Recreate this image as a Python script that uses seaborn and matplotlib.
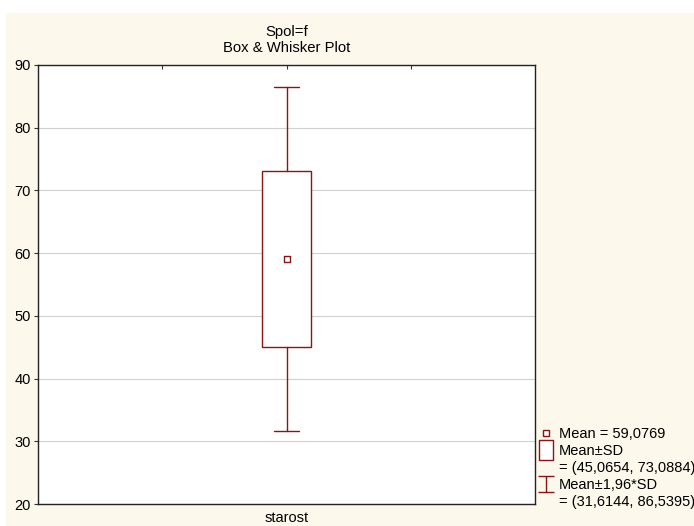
import matplotlib
matplotlib.use("Agg")
import matplotlib.pyplot as plt
import matplotlib.patches as mpatches
from matplotlib.lines import Line2D
from matplotlib.path import Path
import seaborn as sns

# ---- data ----
category = ["starost"]
mean_val = 59.0769
sd_low, sd_high = 45.0654, 73.0884
ci_low, ci_high = 31.6144, 86.5395
y_ticks = [20, 30, 40, 50, 60, 70, 80, 90]
title_lines = ["Spol=f", "Box & Whisker Plot"]

sns.set_style("white")
plt.rcParams["font.family"] = ["Liberation Sans", "DejaVu Sans"]
plt.rcParams["text.color"] = "black"
plt.rcParams["axes.labelcolor"] = "black"
plt.rcParams["xtick.color"] = "black"
plt.rcParams["ytick.color"] = "black"

RED = "#8B1414"
fig = plt.figure(figsize=(6.94, 5.26), dpi=100)
fig.patch.set_facecolor("white")
fig.add_artist(mpatches.Rectangle((6 / 694, 0), 1, (526 - 13) / 526,
                                  transform=fig.transFigure, facecolor="#FDF8EC",
                                  edgecolor="none", zorder=-10))

ax = fig.add_axes([38 / 694, (526 - 504) / 526, (535 - 38) / 694, (504 - 65) / 526])
ax.set_facecolor("white")

stats = [{"med": mean_val, "q1": sd_low, "q3": sd_high,
          "whislo": ci_low, "whishi": ci_high, "label": category[0]}]
ax.bxp(stats, positions=[0], widths=0.2, capwidths=0.1, showfliers=False,
       patch_artist=True,
       boxprops=dict(facecolor="white", edgecolor=RED, linewidth=1.0),
       whiskerprops=dict(color=RED, linewidth=1.0),
       capprops=dict(color=RED, linewidth=1.0),
       medianprops=dict(linewidth=0, alpha=0),
       manage_ticks=False, zorder=3)

sns.scatterplot(x=[0], y=[mean_val], marker="s", s=25, facecolor="white",
                edgecolor=RED, linewidth=1.0, ax=ax, zorder=4)

ax.set_xlim(-1, 1)
ax.set_ylim(y_ticks[0], y_ticks[-1])
ax.set_yticks(y_ticks)
ax.set_xticks([-0.5, 0, 0.5])
ax.set_xticklabels(["", category[0], ""])
ax.yaxis.grid(True, color="#D0D0D0", linewidth=0.8)
ax.set_axisbelow(True)
ax.tick_params(axis="x", direction="in", top=True, length=3, labelsize=10.5, color="#333333", pad=5)
ax.tick_params(axis="y", direction="out", left=True, length=3, labelsize=10.5, color="#333333", pad=2)
for s in ax.spines.values():
    s.set_color("#222222")
    s.set_linewidth(1.0)

ax.set_title("\n".join(title_lines), fontsize=10.7, pad=9, linespacing=1.2, color="black")

# legend
ibeam = Path([(-1, 1), (1, 1), (0, 1), (0, -1), (-1, -1), (1, -1)],
             [Path.MOVETO, Path.LINETO, Path.MOVETO, Path.LINETO, Path.MOVETO, Path.LINETO])
box_path = Path([(-0.35, -0.5), (0.35, -0.5), (0.35, 0.5), (-0.35, 0.5), (-0.35, -0.5)],
                [Path.MOVETO, Path.LINETO, Path.LINETO, Path.LINETO, Path.CLOSEPOLY])
fmt = lambda v: f"{v:.4f}".replace(".", ",")
handles = [
    Line2D([], [], marker="s", linestyle="none", markersize=5, markerfacecolor="white",
           markeredgecolor=RED, markeredgewidth=1.0),
    Line2D([], [], marker=box_path, linestyle="none", markersize=14, markerfacecolor="white",
           markeredgecolor=RED, markeredgewidth=1.0),
    Line2D([], [], linestyle="none"),
    Line2D([], [], marker=ibeam, linestyle="none", markersize=11, markerfacecolor="none",
           markeredgecolor=RED, markeredgewidth=1.0),
    Line2D([], [], linestyle="none"),
]
labels = [
    f"Mean = {fmt(mean_val)}",
    "Mean±SD",
    f"= ({fmt(sd_low)}, {fmt(sd_high)})",
    "Mean±1,96*SD",
    f"= ({fmt(ci_low)}, {fmt(ci_high)})",
]
fig.legend(handles, labels, loc="lower left",
           bbox_to_anchor=(537 / 694, (526 - 510) / 526), frameon=False,
           fontsize=10.5, handlelength=1.0, handletextpad=0.4, labelspacing=0.19,
           borderpad=0.1, borderaxespad=0)

fig.savefig("out.png", dpi=100, facecolor=fig.get_facecolor())
